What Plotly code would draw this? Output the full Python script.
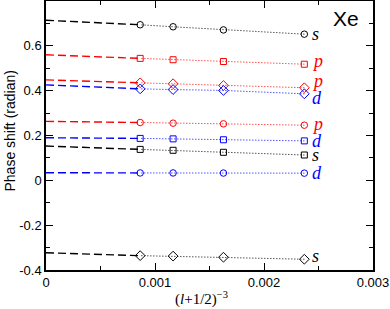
import plotly.graph_objects as go

# x positions: (l+1/2)^-3 for l = 7, 8, 9, 10
x_vals = [0.002370, 0.001628, 0.001166, 0.000864]

# series values at x_vals, and extrapolated value at x=0
series = [
    # (label, color, symbol, values, extrapolated)
    ("s", "black", "circle-open",  [0.652, 0.671, 0.685, 0.694], 0.714),
    ("p", "red",   "square-open",  [0.518, 0.530, 0.538, 0.544], 0.560),
    ("p", "red",   "diamond-open", [0.413, 0.423, 0.431, 0.435], 0.448),
    ("d", "blue",  "diamond-open", [0.386, 0.401, 0.405, 0.408], 0.426),
    ("p", "red",   "circle-open",  [0.246, 0.252, 0.255, 0.258], 0.263),
    ("d", "blue",  "square-open",  [0.176, 0.181, 0.185, 0.187], 0.190),
    ("s", "black", "square-open",  [0.113, 0.125, 0.134, 0.138], 0.153),
    ("d", "blue",  "circle-open",  [0.032, 0.0325, 0.033, 0.033], 0.034),
    ("s", "black", "diamond-open", [-0.352, -0.343, -0.338, -0.336], -0.323),
]
label_shift = [0, 3, 7, -4, 1, 0, 0, 0, 3]

marker_size = {"circle-open": 6.5, "square-open": 6, "diamond-open": 7.5}

fig = go.Figure()
for (lab, col, sym, vals, ext) in series:
    fig.add_trace(go.Scatter(x=[0, x_vals[-1]], y=[ext, vals[-1]], mode="lines",
                             line=dict(color=col, width=1.4, dash="8px,4px"),
                             showlegend=False, hoverinfo="skip"))
    fig.add_trace(go.Scatter(x=x_vals, y=vals, mode="lines+markers",
                             line=dict(color=col, width=1, dash="1px,2px"),
                             marker=dict(symbol=sym, size=marker_size[sym], color=col,
                                         line=dict(color=col, width=1)),
                             showlegend=False))

for i, (lab, col, sym, vals, ext) in enumerate(series):
    fig.add_annotation(x=x_vals[0], y=vals[0], text="<i>" + lab + "</i>",
                       showarrow=False, xanchor="left", yanchor="middle",
                       xshift=6, yshift=label_shift[i],
                       font=dict(family="Liberation Serif", size=18, color=col))

fig.add_annotation(x=1, y=1, xref="paper", yref="paper", text="Xe",
                   showarrow=False, xanchor="right", yanchor="top",
                   xshift=-12, yshift=-4,
                   font=dict(family="Liberation Sans", size=21, color="black"))

fig.add_annotation(x=0.5, y=0, xref="paper", yref="paper",
                   text="(<i>l</i>+1/2)<sup>−3</sup>",
                   showarrow=False, xanchor="center", yanchor="top",
                   xshift=-8, yshift=-17,
                   font=dict(family="Liberation Serif", size=15, color="black"))

fig.add_annotation(x=0, y=0.5, xref="paper", yref="paper",
                   text="Phase shift (radian)", textangle=-90,
                   showarrow=False, xanchor="center", yanchor="middle",
                   xshift=-37, yshift=4,
                   font=dict(family="Liberation Sans", size=14, color="black"))

axis_common = dict(showline=True, linecolor="black", linewidth=1.5, mirror="ticks",
                   ticks="inside", ticklen=7, tickwidth=1, tickcolor="black",
                   showgrid=False, zeroline=False, automargin=False,
                   tickfont=dict(family="Liberation Sans", size=13, color="black"))

fig.update_xaxes(range=[0, 0.003], tickvals=[0, 0.001, 0.002, 0.003],
                 ticktext=["0", "0.001", "0.002", "0.003"],
                 minor=dict(dtick=0.0005, tick0=0, ticks="inside", ticklen=4,
                            tickcolor="black", showgrid=False),
                 **axis_common)
fig.update_yaxes(range=[-0.4, 0.8], tickvals=[-0.4, -0.2, 0, 0.2, 0.4, 0.6],
                 ticktext=["-0.4", "-0.2", "0", "0.2", "0.4", "0.6"],
                 minor=dict(dtick=0.1, tick0=0, ticks="inside", ticklen=4,
                            tickcolor="black", showgrid=False),
                 **axis_common)

fig.update_layout(width=390, height=309, margin=dict(l=46, r=17, t=1, b=39),
                  plot_bgcolor="white", paper_bgcolor="white")

fig.write_html("out.html", config={"displayModeBar": False},
               post_script="document.body.style.margin='0';")
